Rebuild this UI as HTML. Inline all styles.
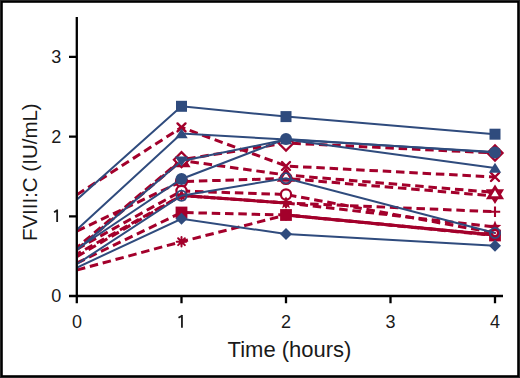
<!DOCTYPE html>
<html><head><meta charset="utf-8"><style>
html,body{margin:0;padding:0;background:#fff;}
body{width:520px;height:378px;overflow:hidden;}
svg{display:block;}
text{font-family:"Liberation Sans",sans-serif;fill:#1a1a1a;}
</style></head><body>
<svg width="520" height="378" viewBox="0 0 520 378">
<rect x="0" y="0" width="520" height="378" fill="#fff"/>
<clipPath id="pc"><rect x="78" y="0" width="440" height="295"/></clipPath>
<g clip-path="url(#pc)">
<path d="M181.5,195.5L286,203.0" stroke="#A3002B" stroke-width="3"/>
<path d="M286,215.0L495,235.0" stroke="#A3002B" stroke-width="3"/>
<polyline points="77,194.6 181.5,127.4 286,166.0 495,177.0" fill="none" stroke="#A3002B" stroke-width="3" stroke-dasharray="8.5 4.8" stroke-dashoffset="0"/>
<polyline points="77,231.0 181.5,181.5 286,178.5 495,196.0" fill="none" stroke="#A3002B" stroke-width="3" stroke-dasharray="8.5 4.8" stroke-dashoffset="0"/>
<polyline points="77,249.5 181.5,160.5 286,175.0 495,192.5" fill="none" stroke="#A3002B" stroke-width="3" stroke-dasharray="8.5 4.8" stroke-dashoffset="0"/>
<polyline points="77,249.0 181.5,191.0 286,194.5 495,233.0" fill="none" stroke="#A3002B" stroke-width="3" stroke-dasharray="8.5 4.8" stroke-dashoffset="0"/>
<polyline points="77,256.5 181.5,195.5 286,203.0 495,227.0" fill="none" stroke="#A3002B" stroke-width="3" stroke-dasharray="8.5 4.8" stroke-dashoffset="0"/>
<polyline points="77,254.0 181.5,195.5 286,203.0 495,211.7" fill="none" stroke="#A3002B" stroke-width="3" stroke-dasharray="8.5 4.8" stroke-dashoffset="4"/>
<polyline points="77,270.0 181.5,241.7 286,215.0 495,235.0" fill="none" stroke="#A3002B" stroke-width="3" stroke-dasharray="8.5 4.8" stroke-dashoffset="0"/>
<polyline points="77,263.0 181.5,212.5 286,215.0 495,235.5" fill="none" stroke="#A3002B" stroke-width="3" stroke-dasharray="8.5 4.8" stroke-dashoffset="0"/>
<polyline points="77,247.5 181.5,159.7 286,143.0 495,153.0" fill="none" stroke="#A3002B" stroke-width="3" stroke-dasharray="8.5 4.8" stroke-dashoffset="4"/>
<path d="M177.50,123.40L185.50,131.40M185.50,123.40L177.50,131.40" stroke="#A3002B" stroke-width="2.4" fill="none" stroke-linecap="round"/>
<path d="M282.00,162.00L290.00,170.00M290.00,162.00L282.00,170.00" stroke="#A3002B" stroke-width="2.4" fill="none" stroke-linecap="round"/>
<path d="M491.00,173.00L499.00,181.00M499.00,173.00L491.00,181.00" stroke="#A3002B" stroke-width="2.4" fill="none" stroke-linecap="round"/>
<circle cx="181.50" cy="181.50" r="5.3" fill="#fff" stroke="#A3002B" stroke-width="2.6"/>
<circle cx="286.00" cy="178.50" r="5.3" fill="#fff" stroke="#A3002B" stroke-width="2.6"/>
<polygon points="488.60,190.80 501.40,190.80 495.00,201.20" fill="#fff" stroke="#A3002B" stroke-width="3" stroke-linejoin="miter"/>
<polygon points="181.50,155.30 187.90,165.70 175.10,165.70" fill="#fff" stroke="#A3002B" stroke-width="3" stroke-linejoin="miter"/>
<polygon points="286.00,169.80 292.40,180.20 279.60,180.20" fill="#fff" stroke="#A3002B" stroke-width="3" stroke-linejoin="miter"/>
<polygon points="495.00,187.30 501.40,197.70 488.60,197.70" fill="#fff" stroke="#A3002B" stroke-width="3" stroke-linejoin="miter"/>
<circle cx="181.50" cy="191.00" r="5.1" fill="#fff" stroke="#A3002B" stroke-width="2.2"/>
<circle cx="286.00" cy="194.50" r="5.1" fill="#fff" stroke="#A3002B" stroke-width="2.2"/>

<polygon points="181.50,188.90 183.20,193.15 187.78,193.46 184.26,196.40 185.38,200.84 181.50,198.40 177.62,200.84 178.74,196.40 175.22,193.46 179.80,193.15" fill="#A3002B"/>
<polygon points="286.00,196.40 287.70,200.65 292.28,200.96 288.76,203.90 289.88,208.34 286.00,205.90 282.12,208.34 283.24,203.90 279.72,200.96 284.30,200.65" fill="#A3002B"/>
<polygon points="495.00,220.40 496.70,224.65 501.28,224.96 497.76,227.90 498.88,232.34 495.00,229.90 491.12,232.34 492.24,227.90 488.72,224.96 493.30,224.65" fill="#A3002B"/>
<path d="M176.30,195.50H186.70M181.50,190.30V200.70" stroke="#A3002B" stroke-width="2.1" fill="none"/>
<path d="M280.80,203.00H291.20M286.00,197.80V208.20" stroke="#A3002B" stroke-width="2.1" fill="none"/>
<path d="M489.80,211.70H500.20M495.00,206.50V216.90" stroke="#A3002B" stroke-width="2.1" fill="none"/>
<path d="M176.70,241.70H186.30M181.50,236.90V246.50M178.11,238.31L184.89,245.09M184.89,238.31L178.11,245.09" stroke="#A3002B" stroke-width="2" fill="none" stroke-linecap="round"/><circle cx="181.50" cy="241.70" r="2" fill="#A3002B"/>
<path d="M281.20,215.00H290.80M286.00,210.20V219.80M282.61,211.61L289.39,218.39M289.39,211.61L282.61,218.39" stroke="#A3002B" stroke-width="2" fill="none" stroke-linecap="round"/><circle cx="286.00" cy="215.00" r="2" fill="#A3002B"/>
<path d="M490.20,235.00H499.80M495.00,230.20V239.80M491.61,231.61L498.39,238.39M498.39,231.61L491.61,238.39" stroke="#A3002B" stroke-width="2" fill="none" stroke-linecap="round"/><circle cx="495.00" cy="235.00" r="2" fill="#A3002B"/>
<rect x="175.60" y="206.60" width="11.8" height="11.8" fill="#A3002B"/>
<rect x="280.10" y="209.10" width="11.8" height="11.8" fill="#A3002B"/>
<rect x="489.10" y="229.60" width="11.8" height="11.8" fill="#A3002B"/>
<polygon points="181.50,152.10 189.10,159.70 181.50,167.30 173.90,159.70" fill="#fff" stroke="#A3002B" stroke-width="2.2"/>
<polygon points="286.00,135.40 293.60,143.00 286.00,150.60 278.40,143.00" fill="#fff" stroke="#A3002B" stroke-width="2.2"/>
<polygon points="495.00,145.40 502.60,153.00 495.00,160.60 487.40,153.00" fill="#fff" stroke="#A3002B" stroke-width="2.2"/>
<circle cx="495.00" cy="233.00" r="2.9" fill="#fff" stroke="#A3002B" stroke-width="1.8"/><circle cx="495.00" cy="233.00" r="1.1" fill="#A3002B"/>
<polyline points="77,199.6 181.5,106.3 286,116.6 495,134.2" fill="none" stroke="#2F4B7D" stroke-width="2"/>
<polyline points="77,229.5 181.5,133.5 286,139.5 495,168.0" fill="none" stroke="#2F4B7D" stroke-width="2"/>
<polyline points="77,250.0 181.5,161.0 286,139.6 495,152.0" fill="none" stroke="#2F4B7D" stroke-width="2"/>
<polyline points="77,264.0 181.5,195.7 286,178.2 495,233.0" fill="none" stroke="#2F4B7D" stroke-width="2"/>
<polyline points="77,267.5 181.5,218.8 286,234.0 495,245.7" fill="none" stroke="#2F4B7D" stroke-width="2"/>
<polyline points="77,249.0 181.5,179.0 286,138.9 495,152.6" fill="none" stroke="#2F4B7D" stroke-width="2"/>
<rect x="176.00" y="100.80" width="11.0" height="11.0" fill="#2F4B7D"/>
<rect x="280.50" y="111.10" width="11.0" height="11.0" fill="#2F4B7D"/>
<rect x="489.50" y="128.70" width="11.0" height="11.0" fill="#2F4B7D"/>
<polygon points="181.50,128.20 187.70,138.20 175.30,138.20" fill="#2F4B7D"/>
<polygon points="286.00,134.20 292.20,144.20 279.80,144.20" fill="#2F4B7D"/>
<polygon points="495.00,162.70 501.20,172.70 488.80,172.70" fill="#2F4B7D"/>
<polygon points="174.90,156.40 188.10,156.40 181.50,166.60" fill="#2F4B7D"/>


<circle cx="181.50" cy="195.70" r="5.1" fill="none" stroke="#2F4B7D" stroke-width="1.8"/>
<circle cx="286.00" cy="178.20" r="5.1" fill="none" stroke="#2F4B7D" stroke-width="1.8"/>
<circle cx="495.00" cy="233.00" r="5.1" fill="none" stroke="#2F4B7D" stroke-width="1.8"/>
<polygon points="181.50,212.80 187.50,218.80 181.50,224.80 175.50,218.80" fill="#2F4B7D"/>
<polygon points="286.00,228.00 292.00,234.00 286.00,240.00 280.00,234.00" fill="#2F4B7D"/>
<polygon points="495.00,239.70 501.00,245.70 495.00,251.70 489.00,245.70" fill="#2F4B7D"/>
<circle cx="181.50" cy="179.00" r="6" fill="#2F4B7D"/>
<circle cx="286.00" cy="138.90" r="6" fill="#2F4B7D"/>
<circle cx="495.00" cy="152.60" r="6" fill="#2F4B7D"/>
</g>
<g stroke="#000" stroke-width="2.3" fill="none">
<path d="M76.8,17V303.2"/>
<path d="M69,296H503"/>
<path d="M69,216.3H77M69,136.6H77M69,56.9H77"/>
<path d="M181.5,296V303.2M286,296V303.2M390.5,296V303.2M495,296V303.2"/>
</g>
<g font-size="18" text-anchor="end">
<text x="61.3" y="302.4">0</text>
<text x="61.3" y="143">2</text>
<text x="61.3" y="63.3">3</text>
</g>
<g font-size="18" text-anchor="middle">
<text x="77" y="328">0</text>
<text x="286" y="328">2</text>
<text x="390.5" y="328">3</text>
<text x="495" y="328">4</text>
</g>
<g stroke="#1a1a1a" stroke-width="1.8" fill="none">
<path d="M57.15,209.4V222.1M57.6,209.9L54.1,212.3"/>
<path d="M181.95,315V327.8M182.4,315.5L178.5,317.8"/>
</g>
<text x="289.5" y="357" font-size="22" text-anchor="middle">Time (hours)</text>
<text transform="translate(36.5,172.2) rotate(-90)" font-size="20.5" text-anchor="middle">FVIII:C (IU/mL)</text>
<rect x="0.5" y="0.5" width="519" height="377" fill="none" stroke="#262626" stroke-width="1"/>
<rect x="1.9" y="1.9" width="516.2" height="374.2" fill="none" stroke="#000" stroke-width="1.8"/>
</svg>
</body></html>
